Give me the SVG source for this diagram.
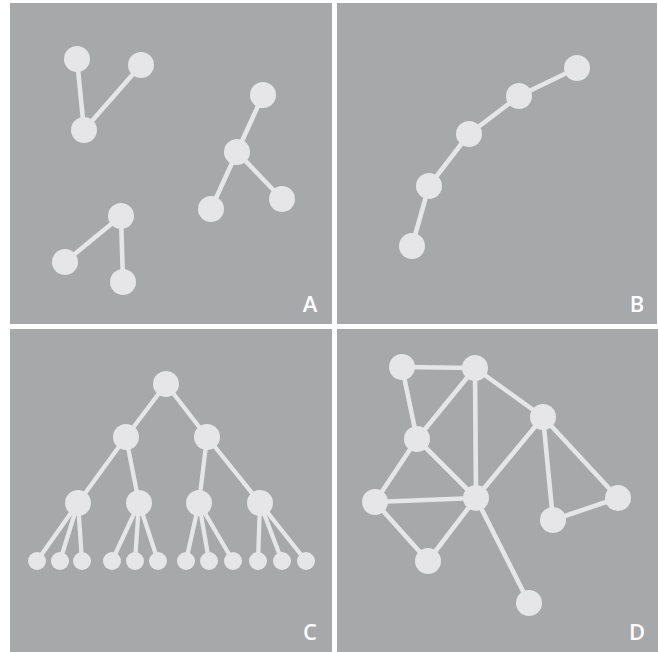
<svg xmlns="http://www.w3.org/2000/svg" width="658" height="652" viewBox="0 0 658 652">
<style>
.panel{fill:#a7a8aa}
.n{fill:#e6e6e8}
.e{stroke:#e6e6e8;stroke-width:4.6;stroke-linecap:round}
.et{stroke:#e6e6e8;stroke-width:4.3;stroke-linecap:round}
.lbl{font-family:"Open Sans","Liberation Sans",sans-serif;font-weight:600;font-size:22px;fill:#ffffff;text-anchor:middle}
</style>
<rect width="658" height="652" fill="#ffffff"/>
<g id="panels">
<rect class="panel" x="10" y="3" width="322" height="321"/>
<rect class="panel" x="337" y="3" width="320" height="321"/>
<rect class="panel" x="10" y="329" width="322" height="323"/>
<rect class="panel" x="337" y="329" width="321" height="323"/>
</g>
<g id="connectors">
<g class="e">
<line x1="77" y1="59" x2="84" y2="130"/>
<line x1="141" y1="65" x2="84" y2="130"/>
<line x1="263" y1="95" x2="237" y2="152"/>
<line x1="237" y1="152" x2="211" y2="209"/>
<line x1="237" y1="152" x2="282" y2="199"/>
<line x1="121" y1="216" x2="65" y2="262"/>
<line x1="121" y1="216" x2="123" y2="282"/>
<line x1="577" y1="68" x2="519" y2="96"/>
<line x1="519" y1="96" x2="469" y2="134"/>
<line x1="469" y1="134" x2="429" y2="186"/>
<line x1="429" y1="186" x2="412" y2="246"/>
<line x1="402" y1="367" x2="475" y2="368"/>
<line x1="402" y1="367" x2="417" y2="439"/>
<line x1="475" y1="368" x2="417" y2="439"/>
<line x1="475" y1="368" x2="476" y2="498"/>
<line x1="475" y1="368" x2="543" y2="417"/>
<line x1="543" y1="417" x2="476" y2="498"/>
<line x1="543" y1="417" x2="553" y2="520"/>
<line x1="543" y1="417" x2="618" y2="498"/>
<line x1="553" y1="520" x2="618" y2="498"/>
<line x1="417" y1="439" x2="375" y2="502"/>
<line x1="417" y1="439" x2="476" y2="498"/>
<line x1="375" y1="502" x2="476" y2="498"/>
<line x1="375" y1="502" x2="428" y2="561"/>
<line x1="428" y1="561" x2="476" y2="498"/>
<line x1="476" y1="498" x2="529" y2="603"/>
</g>
<g class="et">
<line x1="166" y1="384" x2="126" y2="437"/>
<line x1="166" y1="384" x2="207" y2="437"/>
<line x1="126" y1="437" x2="78" y2="503"/>
<line x1="126" y1="437" x2="139" y2="503"/>
<line x1="207" y1="437" x2="199" y2="503"/>
<line x1="207" y1="437" x2="260" y2="503"/>
<line x1="78" y1="503" x2="37" y2="561"/>
<line x1="78" y1="503" x2="60" y2="561"/>
<line x1="78" y1="503" x2="82" y2="561"/>
<line x1="139" y1="503" x2="112" y2="561"/>
<line x1="139" y1="503" x2="135" y2="561"/>
<line x1="139" y1="503" x2="158" y2="561"/>
<line x1="199" y1="503" x2="186" y2="561"/>
<line x1="199" y1="503" x2="209" y2="561"/>
<line x1="199" y1="503" x2="233" y2="561"/>
<line x1="260" y1="503" x2="258" y2="561"/>
<line x1="260" y1="503" x2="282" y2="561"/>
<line x1="260" y1="503" x2="306" y2="561"/>
</g>
</g>
<g id="panelA">
<circle id="a1" class="n" cx="77" cy="59" r="13"/>
<circle id="a2" class="n" cx="141" cy="65" r="13"/>
<circle id="a3" class="n" cx="84" cy="130" r="13"/>
<circle id="a4" class="n" cx="263" cy="95" r="13"/>
<circle id="a5" class="n" cx="237" cy="152" r="13"/>
<circle id="a6" class="n" cx="211" cy="209" r="13"/>
<circle id="a7" class="n" cx="282" cy="199" r="13"/>
<circle id="a8" class="n" cx="121" cy="216" r="13"/>
<circle id="a9" class="n" cx="65" cy="262" r="13"/>
<circle id="a10" class="n" cx="123" cy="282" r="13"/>
<text class="lbl" x="310" y="312">A</text>
</g>
<g id="panelB">
<circle id="b1" class="n" cx="577" cy="68" r="13"/>
<circle id="b2" class="n" cx="519" cy="96" r="13"/>
<circle id="b3" class="n" cx="469" cy="134" r="13"/>
<circle id="b4" class="n" cx="429" cy="186" r="13"/>
<circle id="b5" class="n" cx="412" cy="246" r="13"/>
<text class="lbl" x="637" y="312">B</text>
</g>
<g id="panelC">
<circle id="c1" class="n" cx="166" cy="384" r="13"/>
<circle id="c2" class="n" cx="126" cy="437" r="13"/>
<circle id="c3" class="n" cx="207" cy="437" r="13"/>
<circle id="c4" class="n" cx="78" cy="503" r="13"/>
<circle id="c5" class="n" cx="139" cy="503" r="13"/>
<circle id="c6" class="n" cx="199" cy="503" r="13"/>
<circle id="c7" class="n" cx="260" cy="503" r="13"/>
<circle id="c8" class="n" cx="37" cy="561" r="9"/>
<circle id="c9" class="n" cx="60" cy="561" r="9"/>
<circle id="c10" class="n" cx="82" cy="561" r="9"/>
<circle id="c11" class="n" cx="112" cy="561" r="9"/>
<circle id="c12" class="n" cx="135" cy="561" r="9"/>
<circle id="c13" class="n" cx="158" cy="561" r="9"/>
<circle id="c14" class="n" cx="186" cy="561" r="9"/>
<circle id="c15" class="n" cx="209" cy="561" r="9"/>
<circle id="c16" class="n" cx="233" cy="561" r="9"/>
<circle id="c17" class="n" cx="258" cy="561" r="9"/>
<circle id="c18" class="n" cx="282" cy="561" r="9"/>
<circle id="c19" class="n" cx="306" cy="561" r="9"/>
<text class="lbl" x="310" y="640">C</text>
</g>
<g id="panelD">
<circle id="d1" class="n" cx="402" cy="367" r="13"/>
<circle id="d2" class="n" cx="475" cy="368" r="13"/>
<circle id="d3" class="n" cx="543" cy="417" r="13"/>
<circle id="d4" class="n" cx="417" cy="439" r="13"/>
<circle id="d5" class="n" cx="375" cy="502" r="13"/>
<circle id="d6" class="n" cx="476" cy="498" r="13"/>
<circle id="d7" class="n" cx="428" cy="561" r="13"/>
<circle id="d8" class="n" cx="553" cy="520" r="13"/>
<circle id="d9" class="n" cx="618" cy="498" r="13"/>
<circle id="d10" class="n" cx="529" cy="603" r="13"/>
<text class="lbl" x="637" y="640">D</text>
</g>
</svg>
